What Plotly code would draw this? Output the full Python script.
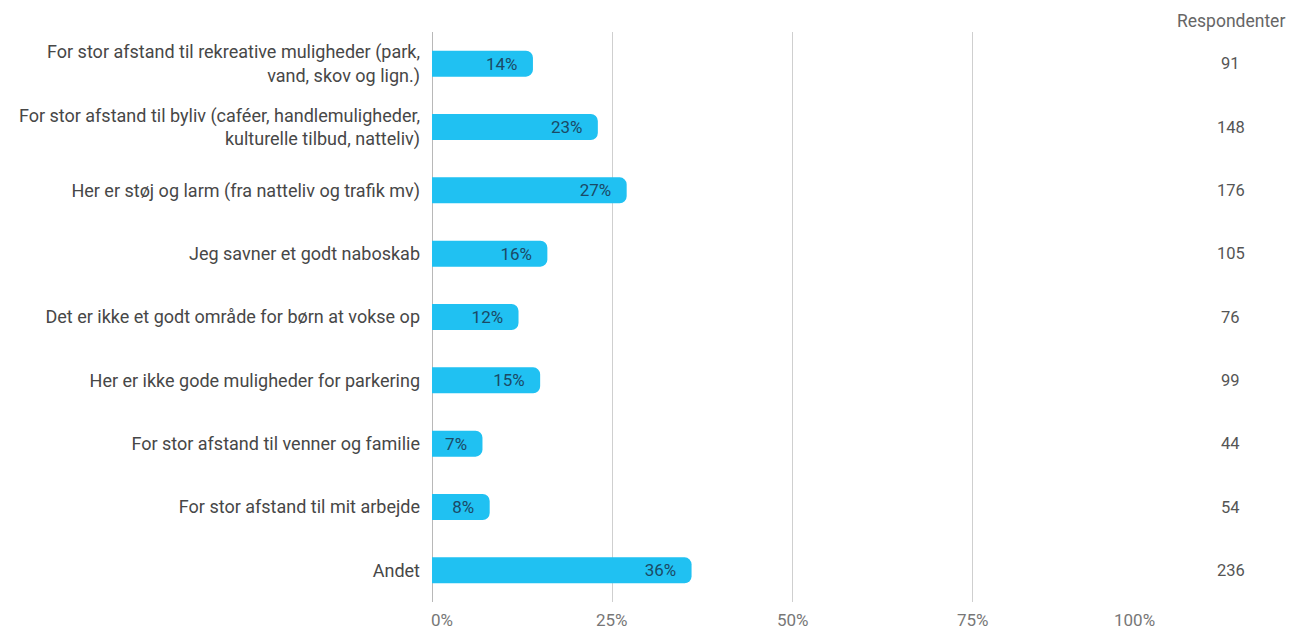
import plotly.graph_objects as go

categories = [
    "For stor afstand til rekreative muligheder (park,<br>vand, skov og lign.)",
    "For stor afstand til byliv (caféer, handlemuligheder,<br>kulturelle tilbud, natteliv)",
    "Her er støj og larm (fra natteliv og trafik mv)",
    "Jeg savner et godt naboskab",
    "Det er ikke et godt område for børn at vokse op",
    "Her er ikke gode muligheder for parkering",
    "For stor afstand til venner og familie",
    "For stor afstand til mit arbejde",
    "Andet",
]
shares = [0.14, 0.23, 0.27, 0.16, 0.12, 0.15, 0.07, 0.08, 0.36]
respondents = [91, 148, 176, 105, 76, 99, 44, 54, 236]
tick_vals = [0, 0.25, 0.5, 0.75, 1.0]
tick_text = ["0%", "25%", "50%", "75%", "100%"]

fig = go.Figure()
fig.add_trace(go.Bar(
    x=shares,
    y=categories,
    orientation="h",
    marker=dict(color="#20C1F2", cornerradius=7, line=dict(width=0)),
    width=0.41,
    text=[f"{round(v*100)}%\u00a0\u00a0" for v in shares],
    textposition="inside",
    insidetextanchor="end",
    textangle=0,
    textfont=dict(family="Roboto", size=17, color="#1b4a66"),
    cliponaxis=False,
    hoverinfo="skip",
))

for cat, n in zip(categories, respondents):
    fig.add_annotation(
        x=1.108, xref="paper", y=cat, yref="y",
        text=str(n), showarrow=False, xanchor="center",
        font=dict(family="Roboto", size=16.5, color="#555555"),
    )
fig.add_annotation(
    x=1.108, xref="paper", y=1, yref="paper", yanchor="bottom", yshift=-1,
    text="Respondenter", showarrow=False, xanchor="center",
    font=dict(family="Roboto", size=17.5, color="#666666"),
)

# x tick labels (first left-aligned, last right-aligned, others centred)
for i, (tv, tt) in enumerate(zip(tick_vals, tick_text)):
    anchor = "left" if i == 0 else ("right" if i == len(tick_vals) - 1 else "center")
    fig.add_annotation(
        x=tv, xref="x", y=0, yref="paper", yanchor="top", yshift=-6,
        xshift=(-3 if i == 0 else (4 if i == len(tick_vals) - 1 else 0)),
        text=tt, showarrow=False, xanchor=anchor,
        font=dict(family="Roboto", size=17, color="#777777"),
    )

fig.update_layout(
    width=1304, height=632,
    margin=dict(l=424, r=159, t=24, b=38),
    paper_bgcolor="white", plot_bgcolor="white",
    showlegend=False,
    font=dict(family="Roboto", size=18, color="#474747"),
    uniformtext=dict(minsize=8, mode="show"),
    xaxis=dict(
        range=[0, 1], tickvals=tick_vals, ticktext=tick_text,
        showticklabels=False,
        showgrid=True, gridcolor="#cfcfcf", gridwidth=1,
        zeroline=False, showline=False, ticks="",
        fixedrange=True,
    ),
    yaxis=dict(
        categoryorder="array", categoryarray=categories,
        autorange="reversed",
        showgrid=False, zeroline=False, showline=False,
        ticks="", ticklabelstandoff=11,
        tickfont=dict(family="Roboto", size=18, color="#474747"),
        fixedrange=True,
    ),
)
fig.add_shape(type="line", xref="x", yref="paper", x0=0, x1=0, y0=0, y1=1,
              line=dict(color="#a0a0a0", width=1.5), layer="below")

fig.write_html("out.html")
